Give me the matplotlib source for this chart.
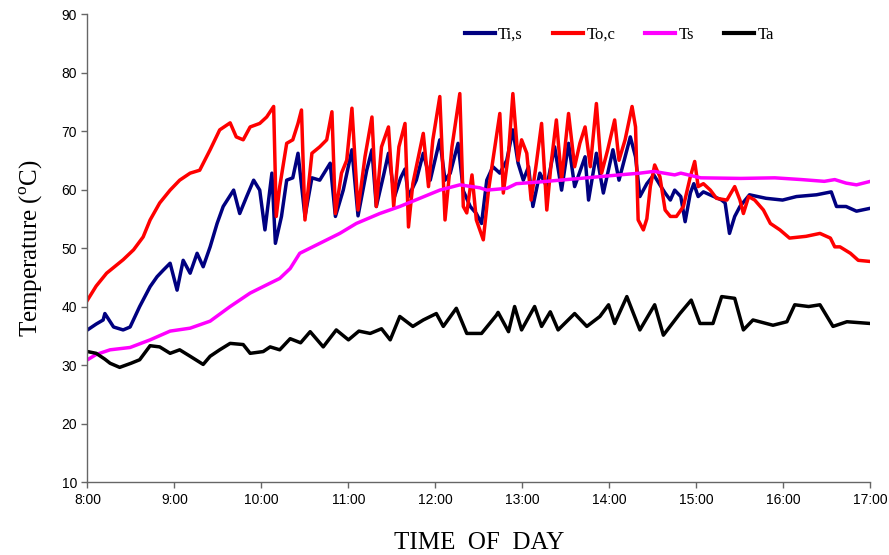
"""
Temperature profiles over the day: Ti,s, To,c, Ts and Ta (8:00 - 17:00).
Output: out.png
"""

import matplotlib
matplotlib.use("Agg")
import matplotlib.pyplot as plt
from matplotlib.ticker import FuncFormatter, MultipleLocator

plt.rcParams["mathtext.fontset"] = "custom"
plt.rcParams["mathtext.rm"] = "Liberation Serif"

# ── Data (time in decimal hours, temperature in °C) ──
T_TIS = [8.00, 8.10, 8.18, 8.20, 8.30, 8.41, 8.49, 8.60, 8.72, 8.80, 8.87, 8.95,
         9.03, 9.10, 9.18, 9.26, 9.33, 9.41, 9.49, 9.56, 9.68, 9.75, 9.83, 9.91,
         9.98, 10.04, 10.12, 10.16, 10.23, 10.29, 10.36, 10.42, 10.50, 10.58,
         10.67, 10.79, 10.85, 10.94, 11.04, 11.11, 11.21, 11.27, 11.32, 11.40,
         11.46, 11.53, 11.60, 11.65, 11.69, 11.78, 11.86, 11.94, 12.05, 12.11,
         12.17, 12.26, 12.32, 12.40, 12.47, 12.53, 12.59, 12.66, 12.74, 12.82,
         12.89, 12.95, 13.01, 13.07, 13.12, 13.20, 13.28, 13.37, 13.45, 13.53,
         13.60, 13.72, 13.76, 13.85, 13.93, 14.04, 14.11, 14.24, 14.30, 14.35,
         14.43, 14.51, 14.58, 14.64, 14.70, 14.75, 14.82, 14.87, 14.93, 14.97,
         15.02, 15.08, 15.20, 15.29, 15.33, 15.38, 15.44, 15.50, 15.61, 15.80,
         15.99, 16.15, 16.38, 16.55, 16.61, 16.72, 16.84, 17.00]
TIS = [36.0, 37.0, 37.7, 38.8, 36.5, 36.0, 36.5, 40.0, 43.4, 45.1, 46.2, 47.4,
       42.8, 47.9, 45.7, 49.1, 46.8, 50.2, 54.2, 57.1, 59.9, 55.9, 58.8, 61.6,
       59.9, 53.1, 62.8, 50.8, 55.4, 61.6, 62.0, 66.2, 55.4, 62.0,
       61.6, 64.5, 55.4, 59.9, 66.8, 55.5, 63.3, 66.8, 57.1, 62.2,
       66.2, 58.8, 62.0, 63.5, 58.8, 61.6, 66.2, 61.6, 68.5, 61.6,
       62.8, 67.9, 59.8, 57.1, 55.9, 54.2, 61.6, 63.9, 62.8, 65.0,
       70.2, 64.5, 61.6, 63.9, 57.1, 62.8, 60.5, 67.3, 59.9, 67.9,
       60.5, 65.6, 58.2, 66.2, 59.4, 66.8, 61.6, 69.0, 65.6, 58.8,
       61.0, 62.5, 60.8, 59.4, 58.2, 59.9, 58.8, 54.5, 59.4, 61.0,
       58.8, 59.6, 58.8, 58.2, 57.7, 52.5, 55.4, 57.1, 59.1, 58.5,
       58.2, 58.8, 59.1, 59.6, 57.1, 57.1, 56.3, 56.8]

T_TOC = [8.00, 8.10, 8.22, 8.41, 8.53, 8.64, 8.72, 8.83, 8.95, 9.06, 9.18, 9.29,
         9.41, 9.52, 9.64, 9.71, 9.79, 9.87, 9.98, 10.06, 10.14, 10.17, 10.21,
         10.29, 10.36, 10.42, 10.46, 10.50, 10.58, 10.67, 10.75, 10.81, 10.85,
         10.92, 10.98, 11.04, 11.11, 11.19, 11.27, 11.32, 11.38, 11.46, 11.52,
         11.58, 11.65, 11.69, 11.74, 11.86, 11.92, 11.97, 12.05, 12.11, 12.19,
         12.28, 12.32, 12.36, 12.42, 12.47, 12.55, 12.61, 12.66, 12.74, 12.78,
         12.84, 12.89, 12.95, 12.99, 13.05, 13.10, 13.16, 13.22, 13.28, 13.33,
         13.39, 13.45, 13.53, 13.60, 13.66, 13.72, 13.78, 13.85, 13.91, 13.98,
         14.06, 14.11, 14.18, 14.26, 14.30, 14.33, 14.39, 14.43, 14.47, 14.52,
         14.58, 14.64, 14.70, 14.77, 14.85, 14.93, 14.98, 15.02, 15.08, 15.16,
         15.23, 15.35, 15.44, 15.50, 15.54, 15.60, 15.67, 15.77, 15.85, 15.96,
         16.07, 16.26, 16.42, 16.54, 16.59, 16.65, 16.77, 16.86, 17.00]
TOC = [41.1, 43.5, 45.7, 48.0, 49.7, 51.9, 54.8, 57.7, 59.9, 61.6, 62.8, 63.3,
       66.8, 70.2, 71.4, 69.0, 68.5, 70.7, 71.3, 72.4, 74.2, 55.4, 60.5,
       67.9, 68.5, 71.3, 73.6, 54.8, 66.2, 67.3, 68.5, 73.3, 55.9,
       62.8, 65.0, 73.9, 56.5, 65.6, 72.4, 57.1, 67.3, 70.7, 57.1,
       67.3, 71.3, 53.6, 61.0, 69.6, 60.5, 68.5, 75.9, 54.8, 67.3,
       76.4, 57.1, 56.0, 62.5, 54.8, 51.4, 59.9, 65.0, 73.0, 59.4,
       66.2, 76.4, 65.0, 68.5, 66.2, 58.2, 64.5, 71.3, 56.5, 64.5,
       71.9, 61.6, 73.0, 63.9, 67.9, 70.7, 63.9, 74.7, 62.8, 66.8,
       71.9, 65.0, 68.5, 74.2, 70.7, 54.8, 53.1, 55.0, 60.5, 64.2,
       62.2, 56.5, 55.4, 55.4, 57.1, 62.2, 64.8, 60.5, 61.0, 59.9,
       58.5, 58.2, 60.5, 58.2, 55.9, 58.8, 58.2, 56.5, 54.2, 53.1,
       51.7, 52.0, 52.5, 51.7, 50.2, 50.2, 49.1, 47.9, 47.7]

T_TS = [8.00, 8.10, 8.26, 8.49, 8.72, 8.95, 9.18, 9.41, 9.64, 9.87, 10.10, 10.21,
        10.33, 10.44, 10.67, 10.90, 11.09, 11.36, 11.59, 11.82, 12.05, 12.28,
        12.51, 12.59, 12.82, 12.93, 13.20, 13.43, 13.66, 13.89, 14.11, 14.35,
        14.51, 14.75, 14.82, 15.05, 15.51, 15.90, 16.21, 16.47, 16.59, 16.72,
        16.84, 17.00]
TS = [30.9, 31.8, 32.6, 33.0, 34.3, 35.8, 36.3, 37.5, 40.0, 42.3, 44.0, 44.8,
      46.5, 49.1, 50.8, 52.5, 54.2, 55.9, 57.1, 58.5, 59.9, 60.8,
      60.3, 59.9, 60.2, 61.0, 61.3, 61.6, 61.9, 62.2, 62.5, 62.8,
      63.1, 62.5, 62.8, 62.0, 61.9, 62.0, 61.7, 61.4, 61.7, 61.1,
      60.8, 61.4]

T_TA = [8.00, 8.10, 8.20, 8.26, 8.37, 8.50, 8.60, 8.72, 8.83, 8.95, 9.06, 9.18,
        9.33, 9.41, 9.52, 9.64, 9.79, 9.87, 10.02, 10.10, 10.21, 10.33, 10.45,
        10.56, 10.71, 10.86, 11.00, 11.12, 11.25, 11.38, 11.48, 11.59, 11.74,
        11.86, 12.01, 12.09, 12.24, 12.36, 12.53, 12.70, 12.72, 12.84, 12.91,
        12.99, 13.14, 13.22, 13.32, 13.41, 13.60, 13.74, 13.89, 13.99, 14.06,
        14.20, 14.35, 14.52, 14.62, 14.81, 14.94, 15.04, 15.19, 15.29, 15.44,
        15.54, 15.65, 15.88, 16.04, 16.13, 16.29, 16.42, 16.57, 16.73, 17.00]
TA = [32.3, 32.0, 31.0, 30.3, 29.6, 30.3, 30.9, 33.3, 33.1, 32.0, 32.6, 31.5,
      30.1, 31.5, 32.6, 33.7, 33.5, 32.0, 32.3, 33.1, 32.6, 34.5, 33.8,
      35.7, 33.1, 36.0, 34.3, 35.8, 35.4, 36.2, 34.3, 38.3, 36.6,
      37.7, 38.8, 36.6, 39.7, 35.4, 35.4, 38.5, 39.0, 35.7, 40.0,
      36.0, 40.0, 36.6, 39.1, 36.0, 38.8, 36.6, 38.3, 40.3, 37.1,
      41.7, 36.0, 40.3, 35.1, 38.8, 41.1, 37.1, 37.1, 41.7, 41.4,
      36.0, 37.7, 36.8, 37.4, 40.3, 40.0, 40.3, 36.6, 37.4, 37.1]

SERIES = [
    ("Ti,s", T_TIS, TIS, "#000080"),
    ("To,c", T_TOC, TOC, "#ff0000"),
    ("Ts", T_TS, TS, "#ff00ff"),
    ("Ta", T_TA, TA, "#000000"),
]


def hhmm(x, pos):
    h = int(x)
    m = int(round((x - h) * 60))
    return f"{h}:{m:02d}"


fig = plt.figure(figsize=(8.89, 5.55), dpi=100)
ax = fig.add_axes([0.0984, 0.1315, 0.8807, 0.8432])

for name, t, v, color in SERIES:
    ax.plot(t, v, color=color, linewidth=2.5, label=name)

ax.set_xlim(8, 17)
ax.set_ylim(10, 90)
ax.xaxis.set_major_locator(MultipleLocator(1))
ax.yaxis.set_major_locator(MultipleLocator(10))
ax.xaxis.set_major_formatter(FuncFormatter(hhmm))

ax.spines[["top", "right"]].set_visible(False)
for s in ["left", "bottom"]:
    ax.spines[s].set_color("#666666")
    ax.spines[s].set_linewidth(1.0)
ax.tick_params(direction="out", length=4, width=1.0, color="#666666",
               labelsize=10, labelcolor="black")
for lbl in ax.get_xticklabels() + ax.get_yticklabels():
    lbl.set_fontfamily("Liberation Sans")
ax.tick_params(axis="x", pad=4)

ax.set_xlabel("TIME  OF  DAY", fontsize=18, fontfamily="Liberation Serif",
              labelpad=18)
ax.set_ylabel(r"Temperature ($^{\rm o}$C)", fontsize=18,
              fontfamily="Liberation Serif", labelpad=12)

leg = ax.legend(loc="center left", bbox_to_anchor=(0.482, 0.955), ncol=4,
                frameon=False, borderpad=0, borderaxespad=0,
                handlelength=1.8, handletextpad=0.2, columnspacing=1.8,
                prop={"family": "Liberation Serif", "size": 12})
for line in leg.get_lines():
    line.set_linewidth(3)

fig.savefig("out.png", dpi=100)
